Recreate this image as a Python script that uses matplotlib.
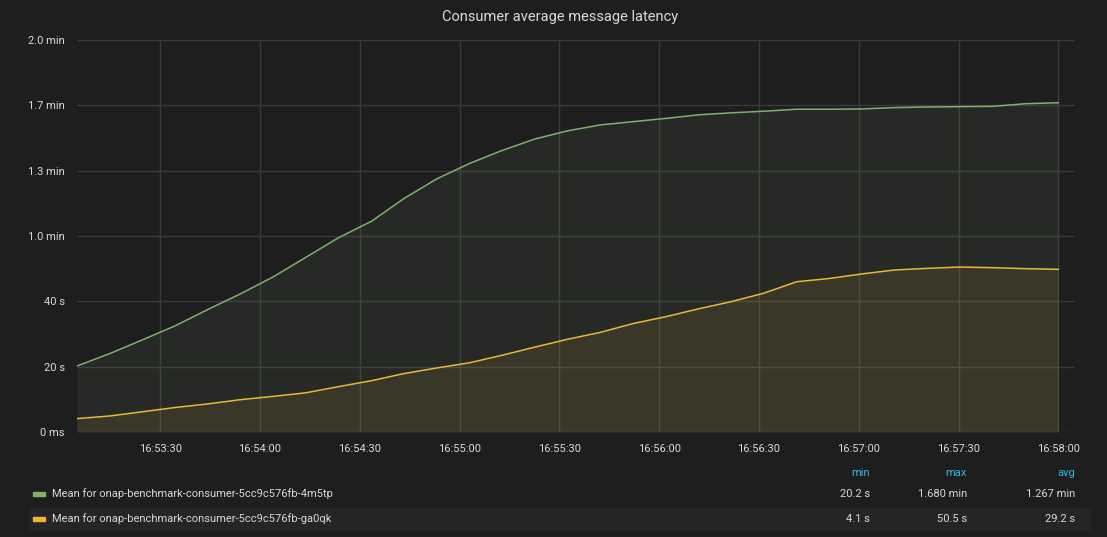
# -*- coding: utf-8 -*-

import matplotlib.pyplot as plt
import matplotlib.dates as mdates
import numpy as np
import pandas as pd

plt.rcParams['font.family'] = ['Roboto', 'DejaVu Sans']

# sample times, 16:53:05 .. 16:58:00
t_start = "2020-01-01 16:53:05"
t_end = "2020-01-01 16:58:00"
n_points = 31

# mean latency in seconds
green_name = "Mean for onap-benchmark-consumer-5cc9c576fb-4m5tp"
green_vals = [20.2, 24.0, 28.2, 32.5, 37.5, 42.3, 47.5, 53.5, 59.5, 64.5,
              71.5, 77.5, 82.2, 86.2, 89.7, 92.2, 94.0, 95.0, 96.0, 97.1,
              97.7, 98.2, 98.8, 98.8, 98.9, 99.3, 99.5, 99.6, 99.7, 100.5,
              100.8]

yellow_name = "Mean for onap-benchmark-consumer-5cc9c576fb-ga0qk"
yellow_vals = [4.1, 4.9, 6.2, 7.5, 8.6, 9.9, 10.9, 12.0, 13.9, 15.7,
               17.9, 19.6, 21.2, 23.5, 26.0, 28.4, 30.5, 33.2, 35.3, 37.7,
               39.9, 42.5, 46.0, 47.0, 48.4, 49.6, 50.1, 50.5, 50.3, 50.0,
               49.8]

# legend table
stat_headers = ["min", "max", "avg"]
green_stats = ["20.2 s", "1.680 min", "1.267 min"]
yellow_stats = ["4.1 s", "50.5 s", "29.2 s"]

y_ticks = [0, 20, 40, 60, 80, 100, 120]
y_labels = ["0 ms", "20 s", "40 s", "1.0 min", "1.3 min", "1.7 min", "2.0 min"]

BG = "#1f1e1f"
TXT = "#d8d9da"
GRID = "#3a3a3b"
GREEN = "#7eb26d"
YELLOW = "#eab839"
BLUE = "#33b5e5"


def main():
    times = pd.date_range(t_start, t_end, periods=n_points)

    fig = plt.figure(figsize=(11.07, 5.37), dpi=100, facecolor=BG)
    ax = fig.add_axes([77 / 1107, 1 - 432 / 537, 998 / 1107, 392 / 537])
    ax.set_facecolor(BG)

    ax.fill_between(times, green_vals, color=GREEN, alpha=0.08, lw=0)
    ax.fill_between(times, yellow_vals, color=YELLOW, alpha=0.1, lw=0)
    ax.plot(times, green_vals, color=GREEN, lw=1.1)
    ax.plot(times, yellow_vals, color=YELLOW, lw=1.1)

    ax.set_ylim(0, 120)
    ax.set_xlim(pd.Timestamp(t_start), pd.Timestamp("2020-01-01 16:58:05"))
    ax.set_yticks(y_ticks)
    ax.set_yticklabels(y_labels)
    ax.xaxis.set_major_locator(mdates.SecondLocator(bysecond=[0, 30]))
    ax.xaxis.set_major_formatter(mdates.DateFormatter("%H:%M:%S"))

    ax.grid(True, color=GRID, lw=1)
    ax.set_axisbelow(True)
    for s in ax.spines.values():
        s.set_visible(False)
    ax.tick_params(colors=TXT, labelsize=8, length=0, pad=9)

    fig.text(560 / 1107, 1 - 17 / 537, "Consumer average message latency",
             color=TXT, fontsize=10.5, ha="center", va="center")

    # legend table below the plot
    cols = [870, 967, 1075]
    for x, h in zip(cols, stat_headers):
        fig.text(x / 1107, 1 - 473 / 537, h, color=BLUE, fontsize=8,
                 ha="right", va="center")

    fig.patches.append(plt.Rectangle((30 / 1107, 1 - 530 / 537),
                                     1060 / 1107, 22 / 537,
                                     transform=fig.transFigure,
                                     color="#252426", zorder=0))

    rows = [(494, GREEN, green_name, green_stats),
            (519, YELLOW, yellow_name, yellow_stats)]
    for y, c, name, stats in rows:
        yf = 1 - y / 537
        fig.patches.append(plt.Rectangle((33 / 1107, yf - 2 / 537),
                                         12 / 1107, 4 / 537,
                                         transform=fig.transFigure,
                                         color=c))
        fig.text(52 / 1107, yf, name, color=TXT, fontsize=8,
                 ha="left", va="center")
        for x, v in zip(cols, stats):
            fig.text(x / 1107, yf, v, color=TXT, fontsize=8,
                     ha="right", va="center")

    fig.savefig("out.png", dpi=100, facecolor=BG)


if __name__ == "__main__":
    main()
